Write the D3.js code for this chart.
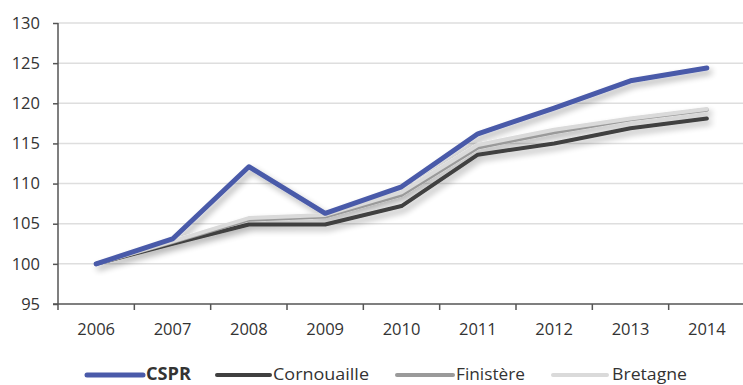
<!DOCTYPE html>
<html>
<head>
<meta charset="utf-8">
<script src="https://cdn.jsdelivr.net/npm/d3@7"></script>
<style>
  html, body { margin: 0; padding: 0; background: #fff; }
  svg { display: block; }
</style>
</head>
<body>
<svg id="chart" width="743" height="385"></svg>
<script>
// Index (base 100 in 2006)
const years = ["2006", "2007", "2008", "2009", "2010", "2011", "2012", "2013", "2014"];
const yTicks = [95, 100, 105, 110, 115, 120, 125, 130];

const cspr        = [100, 103.1, 112.1, 106.3, 109.6, 116.2, 119.4, 122.8, 124.4];
const cornouaille = [100, 102.5, 104.9, 104.9, 107.2, 113.6, 115.0, 116.9, 118.1];
const finistere   = [100, 102.7, 105.5, 105.9, 108.6, 114.5, 116.4, 118.0, 119.2];
const bretagne    = [100, 102.8, 105.7, 106.1, 108.9, 114.8, 116.7, 118.1, 119.3];

const seriesNames  = ["CSPR", "Cornouaille", "Finistère", "Bretagne"];
const seriesValues = [cspr, cornouaille, finistere, bretagne];
const seriesColors = ["#4a5aa9", "#404040", "#9a9a9a", "#dadada"];
const seriesWidths = [5, 4, 4, 4];

const svg = d3.select("#chart");
const plotLeft = 58, plotRight = 745, plotTop = 23, plotBottom = 304;

const x = d3.scaleBand().domain(years).range([plotLeft, plotRight]).padding(0);
const y = d3.scaleLinear().domain([95, 130]).range([plotBottom, plotTop]);

// drop shadow under the lines
const defs = svg.append("defs");
const f = defs.append("filter").attr("id", "shadow")
  .attr("x", "-10%").attr("y", "-10%").attr("width", "120%").attr("height", "130%");
f.append("feGaussianBlur").attr("in", "SourceAlpha").attr("stdDeviation", 3).attr("result", "b");
f.append("feOffset").attr("in", "b").attr("dx", 3).attr("dy", 4).attr("result", "o");
f.append("feComponentTransfer").attr("in", "o").attr("result", "s")
  .append("feFuncA").attr("type", "linear").attr("slope", 0.3);
const m = f.append("feMerge");
m.append("feMergeNode").attr("in", "s");
m.append("feMergeNode").attr("in", "SourceGraphic");

// gridlines
svg.append("g").selectAll("line").data(yTicks.filter(d => d > 95)).join("line")
  .attr("x1", plotLeft).attr("x2", plotRight)
  .attr("y1", d => y(d)).attr("y2", d => y(d))
  .attr("stroke", "#dedede").attr("stroke-width", 1.5);

// y axis
const yAxis = svg.append("g").attr("transform", `translate(${plotLeft},0)`)
  .call(d3.axisLeft(y).tickValues(yTicks).tickSize(5).tickPadding(13).tickFormat(d3.format("d")));
yAxis.select(".domain").attr("stroke", "#555").attr("stroke-width", 1.5)
  .attr("d", `M0,${plotTop}V${plotBottom}`);
yAxis.selectAll(".tick line").attr("stroke", "#555").attr("stroke-width", 1.5);
yAxis.selectAll(".tick text").attr("fill", "#333")
  .style("font-family", "'Open Sans', sans-serif").style("font-size", "16.5px");

// x axis: ticks on band boundaries, labels at band centres
const xAxis = svg.append("g").attr("transform", `translate(0,${plotBottom})`);
xAxis.append("line").attr("x1", plotLeft - 5).attr("x2", plotRight).attr("y1", 0).attr("y2", 0)
  .attr("stroke", "#555").attr("stroke-width", 1.5);
const boundaries = years.map(d => x(d)).concat([x(years[years.length - 1]) + x.bandwidth()]);
xAxis.selectAll("line.tk").data(boundaries).join("line")
  .attr("class", "tk")
  .attr("x1", d => d).attr("x2", d => d)
  .attr("y1", 0).attr("y2", 6)
  .attr("stroke", "#555").attr("stroke-width", 1.5);
xAxis.selectAll("text").data(years).join("text")
  .attr("x", d => x(d) + x.bandwidth() / 2).attr("y", 31)
  .attr("text-anchor", "middle").attr("fill", "#333")
  .style("font-family", "'Open Sans', sans-serif").style("font-size", "16.5px")
  .text(d => d);

// lines
const line = d3.line()
  .x((d, i) => x(years[i]) + x.bandwidth() / 2)
  .y(d => y(d));

const order = [1, 2, 3, 0];
svg.append("g").attr("filter", "url(#shadow)").selectAll("path").data(order).join("path")
  .attr("d", k => line(seriesValues[k]))
  .attr("fill", "none")
  .attr("stroke", k => seriesColors[k])
  .attr("stroke-width", k => seriesWidths[k])
  .attr("stroke-linejoin", "round")
  .attr("stroke-linecap", "round");

// legend
const legendItems = [
  { sx: 87, ex: 143, tx: 146, w: 45 },
  { sx: 217, ex: 270, tx: 273, w: 96 },
  { sx: 397, ex: 453, tx: 456, w: 69 },
  { sx: 553, ex: 607, tx: 612, w: 75 }
];
const lg = svg.append("g");
seriesNames.forEach((name, i) => {
  const it = legendItems[i];
  lg.append("line").attr("x1", it.sx).attr("x2", it.ex).attr("y1", 375).attr("y2", 375)
    .attr("stroke", seriesColors[i]).attr("stroke-width", seriesWidths[i])
    .attr("stroke-linecap", "round");
  lg.append("text").attr("x", it.tx).attr("y", 380)
    .attr("fill", "#333")
    .attr("textLength", it.w).attr("lengthAdjust", "spacingAndGlyphs")
    .style("font-family", "'Open Sans', sans-serif").style("font-size", "17px")
    .style("font-weight", i === 0 ? "700" : "400")
    .text(name);
});
</script>
</body>
</html>
